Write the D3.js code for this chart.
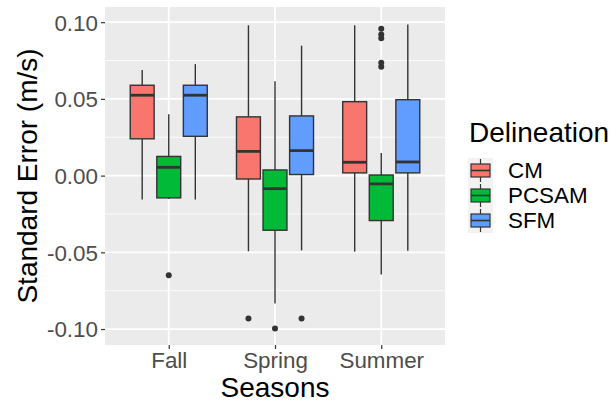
<!DOCTYPE html>
<html>
<head>
<meta charset="utf-8">
<script src="https://cdn.jsdelivr.net/npm/d3@7"></script>
<style>
  html, body { margin: 0; padding: 0; background: #fff; }
  svg { display: block; font-family: "Liberation Sans", Arial, sans-serif; }
</style>
</head>
<body>
<svg id="chart" width="614" height="402"></svg>
<script>
// ---- data ----
const seasons = ["Fall", "Spring", "Summer"];
const series = ["CM", "PCSAM", "SFM"];
const colors = ["#F8766D", "#00BA38", "#619CFF"];
const yTickValues = [-0.10, -0.05, 0.00, 0.05, 0.10];
const yTickLabels = ["-0.10", "-0.05", "0.00", "0.05", "0.10"];
// box stats per season: [lower whisker, q1, median, q3, upper whisker]
const cmStats    = [[-0.0156, 0.0240, 0.0524, 0.0589, 0.0688],
                    [-0.0493, -0.0022, 0.0158, 0.0383, 0.0980],
                    [-0.0495, 0.0018, 0.0087, 0.0482, 0.0980]];
const pcsamStats = [[-0.0152, -0.0145, 0.0054, 0.0125, 0.0400],
                    [-0.0834, -0.0356, -0.0085, 0.0037, 0.0615],
                    [-0.0645, -0.0293, -0.0054, 0.0004, 0.0147]];
const sfmStats   = [[-0.0156, 0.0256, 0.0524, 0.0589, 0.0727],
                    [-0.0487, 0.0007, 0.0163, 0.0389, 0.0847],
                    [-0.0489, 0.0018, 0.0089, 0.0495, 0.0985]];
const cmOutliers    = [[], [-0.0932], []];
const pcsamOutliers = [[-0.0650], [-0.0997], [0.0958, 0.0919, 0.0895, 0.0735, 0.0710]];
const sfmOutliers   = [[], [-0.0932], []];

const statsBySeries = [cmStats, pcsamStats, sfmStats];
const outliersBySeries = [cmOutliers, pcsamOutliers, sfmOutliers];

// ---- layout ----
const svg = d3.select("#chart");
const panel = { left: 105, right: 445, top: 7, bottom: 345 };

const x = d3.scalePoint().domain(seasons).range([panel.left, panel.right]).padding(0.6);
const step = x.step();
const xInner = d3.scaleBand().domain(series).range([-0.375 * step, 0.375 * step]);
const boxW = xInner.bandwidth() * 0.9;
const y = d3.scaleLinear().domain([-0.1104, 0.1099]).range([panel.bottom, panel.top]);

// panel background
svg.append("rect")
  .attr("x", panel.left).attr("y", panel.top)
  .attr("width", panel.right - panel.left).attr("height", panel.bottom - panel.top)
  .attr("fill", "#EBEBEB");

// minor grid
const minor = yTickValues.slice(0, -1).map((v, i) => (v + yTickValues[i + 1]) / 2);
minor.push(yTickValues[yTickValues.length - 1] + 0.025);
svg.append("g").selectAll("line").data(minor.filter(v => y(v) > panel.top)).join("line")
  .attr("x1", panel.left).attr("x2", panel.right)
  .attr("y1", d => y(d)).attr("y2", d => y(d))
  .attr("stroke", "#FFFFFF").attr("stroke-width", 0.8);
// major grid
svg.append("g").selectAll("line").data(yTickValues).join("line")
  .attr("x1", panel.left).attr("x2", panel.right)
  .attr("y1", d => y(d)).attr("y2", d => y(d))
  .attr("stroke", "#FFFFFF").attr("stroke-width", 1.8);
svg.append("g").selectAll("line").data(seasons).join("line")
  .attr("x1", d => x(d)).attr("x2", d => x(d))
  .attr("y1", panel.top).attr("y2", panel.bottom)
  .attr("stroke", "#FFFFFF").attr("stroke-width", 1.8);

// boxes
const edge = "#333333";
series.forEach((s, si) => {
  const g = svg.append("g");
  seasons.forEach((season, ci) => {
    const st = statsBySeries[si][ci];
    const cx = x(season) + xInner(s) + xInner.bandwidth() / 2;
    // whiskers
    g.append("line").attr("x1", cx).attr("x2", cx)
      .attr("y1", y(st[3])).attr("y2", y(st[4]))
      .attr("stroke", edge).attr("stroke-width", 1.4);
    g.append("line").attr("x1", cx).attr("x2", cx)
      .attr("y1", y(st[1])).attr("y2", y(st[0]))
      .attr("stroke", edge).attr("stroke-width", 1.4);
    // box
    g.append("rect")
      .attr("x", cx - boxW / 2).attr("width", boxW)
      .attr("y", y(st[3])).attr("height", y(st[1]) - y(st[3]))
      .attr("fill", colors[si]).attr("stroke", edge).attr("stroke-width", 1.4);
    // median
    g.append("line").attr("x1", cx - boxW / 2).attr("x2", cx + boxW / 2)
      .attr("y1", y(st[2])).attr("y2", y(st[2]))
      .attr("stroke", edge).attr("stroke-width", 2.8);
    // outliers
    g.selectAll(null).data(outliersBySeries[si][ci]).join("circle")
      .attr("cx", cx).attr("cy", d => y(d)).attr("r", 3)
      .attr("fill", edge);
  });
});

// axes
const yAxis = d3.axisLeft(y).tickValues(yTickValues)
  .tickFormat((d, i) => yTickLabels[i]).tickSize(4).tickPadding(3);
const yg = svg.append("g").attr("transform", `translate(${panel.left},0)`).call(yAxis);
yg.select(".domain").remove();
yg.selectAll(".tick line").attr("stroke", edge).attr("stroke-width", 1.2);
yg.selectAll(".tick text").attr("fill", "#4D4D4D").style("font-size", "22.4px")
  .attr("dy", "0.35em");

const xAxis = d3.axisBottom(x).tickSize(4).tickPadding(3);
const xg = svg.append("g").attr("transform", `translate(0,${panel.bottom})`).call(xAxis);
xg.select(".domain").remove();
xg.selectAll(".tick line").attr("stroke", edge).attr("stroke-width", 1.2);
xg.selectAll(".tick text").attr("fill", "#4D4D4D").style("font-size", "22.4px")
  .attr("y", 23).attr("dy", 0);

// axis titles
svg.append("text").attr("x", (panel.left + panel.right) / 2).attr("y", 397)
  .attr("text-anchor", "middle").style("font-size", "28px").attr("fill", "#000")
  .text("Seasons");
svg.append("text")
  .attr("transform", `translate(37,${(panel.top + panel.bottom) / 2}) rotate(-90)`)
  .attr("text-anchor", "middle").style("font-size", "28px").attr("fill", "#000")
  .text("Standard Error (m/s)");

// legend
const lg = svg.append("g");
lg.append("text").attr("x", 469).attr("y", 142).style("font-size", "28px").attr("fill", "#000")
  .text("Delineation");
const keyX = 468, keyY = 158, keyS = 25;
series.forEach((s, i) => {
  const ky = keyY + i * keyS;
  lg.append("rect").attr("x", keyX).attr("y", ky).attr("width", keyS).attr("height", keyS)
    .attr("fill", "#F2F2F2");
  const cx = keyX + keyS / 2;
  lg.append("line").attr("x1", cx).attr("x2", cx).attr("y1", ky + 1).attr("y2", ky + keyS - 1)
    .attr("stroke", edge).attr("stroke-width", 1.2);
  lg.append("rect").attr("x", keyX + 3).attr("y", ky + 6).attr("width", keyS - 6).attr("height", keyS - 12)
    .attr("fill", colors[i]).attr("stroke", edge).attr("stroke-width", 1.2);
  lg.append("line").attr("x1", keyX + 3).attr("x2", keyX + keyS - 3)
    .attr("y1", ky + keyS / 2).attr("y2", ky + keyS / 2)
    .attr("stroke", edge).attr("stroke-width", 1.6);
  lg.append("text").attr("x", 508).attr("y", ky + keyS / 2).attr("dy", "0.35em")
    .style("font-size", "22.4px").attr("fill", "#000").text(s);
});
</script>
</body>
</html>
